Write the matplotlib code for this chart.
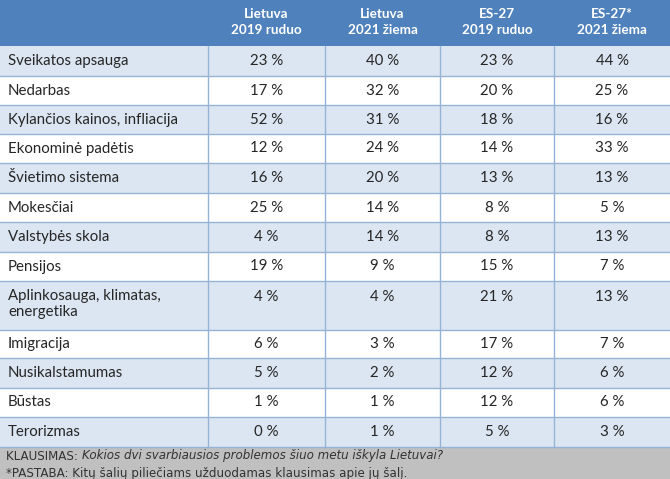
import matplotlib.pyplot as plt
from matplotlib.patches import Rectangle

# table content
headers = ["Lietuva\n2019 ruduo", "Lietuva\n2021 žiema", "ES-27\n2019 ruduo", "ES-27*\n2021 žiema"]
problems = [
    "Sveikatos apsauga", "Nedarbas", "Kylančios kainos, infliacija", "Ekonominė padėtis",
    "Švietimo sistema", "Mokesčiai", "Valstybės skola", "Pensijos",
    "Aplinkosauga, klimatas,\nenergetika", "Imigracija", "Nusikalstamumas", "Būstas", "Terorizmas",
]
lt_2019 = [23, 17, 52, 12, 16, 25, 4, 19, 4, 6, 5, 1, 0]
lt_2021 = [40, 32, 31, 24, 20, 14, 14, 9, 4, 3, 2, 1, 1]
es_2019 = [23, 20, 18, 14, 13, 8, 8, 15, 21, 17, 12, 12, 5]
es_2021 = [44, 25, 16, 33, 13, 5, 13, 7, 13, 7, 6, 6, 3]
question = "Kokios dvi svarbiausios problemos šiuo metu iškyla Lietuvai?"
note = "*PASTABA: Kitų šalių piliečiams užduodamas klausimas apie jų šalį."

# layout (pixels)
W, H = 670, 479
col_w = [208, 117, 115, 114, 116]
header_h = 46
row_h = [30, 29, 29, 29, 30, 29, 30, 29, 49, 28, 30, 29, 30]

HEAD_BLUE = "#4f81bd"
ROW_BLUE = "#dce6f2"
GRID = "#95b3d7"
TEXT = "#262626"
FOOT = "#c0c0c0"
FS = 10.8

plt.rcParams['font.family'] = ['Lato', 'DejaVu Sans']

fig = plt.figure(figsize=(W / 100, H / 100), dpi=100)
ax = fig.add_axes([0, 0, 1, 1])
ax.set_xlim(0, W)
ax.set_ylim(H, 0)
ax.axis('off')

col_x = [sum(col_w[:i]) for i in range(len(col_w) + 1)]

# header
ax.add_patch(Rectangle((0, 0), W, header_h, color=HEAD_BLUE, lw=0))
for i, h in enumerate(headers):
    cx = (col_x[i + 1] + col_x[i + 2]) / 2
    ax.text(cx, header_h / 2 - 1, h, ha='center', va='center', color='white',
            fontsize=9.7, fontweight='bold', linespacing=1.35)

columns = [lt_2019, lt_2021, es_2019, es_2021]
y = header_h
for r, name in enumerate(problems):
    h = row_h[r]
    fc = ROW_BLUE if r % 2 == 0 else 'white'
    ax.add_patch(Rectangle((0, y), W, h, color=fc, lw=0))
    if "\n" in name:
        ty = y + 16
        ax.text(8, y + 8, name, ha='left', va='top', color=TEXT, fontsize=FS,
                linespacing=1.2)
    else:
        ty = y + h / 2
        ax.text(8, ty, name, ha='left', va='center', color=TEXT, fontsize=FS)
    for c, vals in enumerate(columns):
        cx = (col_x[c + 1] + col_x[c + 2]) / 2
        ax.text(cx, ty, f"{vals[r]} %", ha='center', va='center', color=TEXT, fontsize=FS)
    y += h
    ax.plot([0, W], [y, y], color=GRID, lw=1)

# vertical grid lines
for x in col_x[1:-1]:
    ax.plot([x, x], [header_h, y], color=GRID, lw=1)

# footer
ax.add_patch(Rectangle((0, y), W, H - y, color=FOOT, lw=0))
t = ax.text(6, y + 9, "KLAUSIMAS: ", ha='left', va='center', color='#333333',
            fontsize=8.6, family='DejaVu Sans')
fig.canvas.draw()
bb = t.get_window_extent().transformed(ax.transData.inverted())
ax.text(bb.x1, y + 9, question, ha='left', va='center', color='#333333',
        fontsize=8.6, style='italic', family='DejaVu Sans')
ax.text(6, y + 26.5, note, ha='left', va='center', color='#333333',
        fontsize=8.6, family='DejaVu Sans')

fig.savefig("out.png", dpi=100)
